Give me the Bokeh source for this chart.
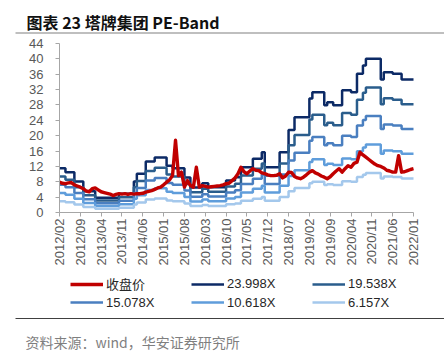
import math
from bokeh.plotting import figure
from bokeh.models import Range1d, FixedTicker, Legend, LegendItem
from bokeh.layouts import column
from bokeh.embed import file_html
from bokeh.resources import INLINE
from bokeh.core.properties import value

# ---------------- data (monthly, 2012/02 .. 2022/01) ----------------
tick_labels = ["2012/02", "2012/09", "2013/04", "2013/11", "2014/06", "2015/01",
               "2015/08", "2016/03", "2016/10", "2017/05", "2017/12", "2018/07",
               "2019/02", "2019/09", "2020/04", "2020/11", "2021/06", "2022/01"]

price = [7.9, 7.6, 7.5, 7.7, 7.8, 7.2, 6.9, 6.6, 6.2, 5.6, 5.4,          # 2012
         6.2, 6.4, 5.9, 5.4, 5.2, 5.0, 4.8, 4.4, 4.7, 4.9, 4.8, 4.9,    # 2013
         4.7, 4.9, 4.8, 4.9, 4.9, 5.0, 5.3, 5.5, 5.7, 6.0, 6.4, 6.6,    # 2014
         7.2, 7.9, 8.5, 9.6, 18.8, 9.6, 10.5, 6.6, 8.3, 7.0, 6.6, 11.8, # 2015
         6.6, 7.0, 6.8, 6.6, 6.7, 6.8, 6.9, 7.0, 7.2, 7.5, 7.6, 8.3,    # 2016
         9.0, 10.1, 11.8, 10.6, 10.1, 10.8, 11.4, 11.0, 10.9, 10.3, 10.1, 9.8,  # 2017
         9.6, 9.6, 9.7, 10.1, 9.0, 9.5, 10.5, 10.4, 9.4, 9.0, 8.8, 9.2,  # 2018
         9.8, 10.5, 10.9, 10.3, 10.0, 9.5, 9.2, 8.8, 9.3, 10.1, 10.8, 11.4,  # 2019
         10.5, 11.4, 12.2, 11.8, 12.8, 13.1, 15.7, 15.0, 14.4, 13.8, 13.2, 12.6,  # 2020
         12.2, 12.0, 11.6, 11.0, 10.8, 10.5, 10.5, 14.8, 10.5, 10.6, 10.9, 11.2,  # 2021
         11.4]                                                          # 2022/01

eps = [0.479, 0.479, 0.438, 0.438, 0.438, 0.335, 0.335, 0.335, 0.230, 0.230, 0.230,
       0.230, 0.160, 0.160, 0.160, 0.160, 0.160, 0.160, 0.160, 0.160, 0.204, 0.204, 0.204,
       0.204, 0.204, 0.335, 0.421, 0.421, 0.421, 0.554, 0.554, 0.554, 0.596, 0.596, 0.596,
       0.596, 0.508, 0.508, 0.479, 0.479, 0.479, 0.479, 0.379, 0.379, 0.271, 0.271, 0.271,
       0.271, 0.317, 0.317, 0.275, 0.275, 0.275, 0.275, 0.275, 0.275, 0.346, 0.346, 0.346,
       0.383, 0.383, 0.492, 0.492, 0.492, 0.492, 0.583, 0.583, 0.583, 0.654, 0.492, 0.492,
       0.492, 0.492, 0.492, 0.654, 0.654, 0.654, 0.896, 0.896, 1.033, 1.033, 1.033, 1.033,
       1.033, 1.238, 1.304, 1.304, 1.304, 1.304, 1.163, 1.196, 1.196, 1.163, 1.163, 1.163,
       1.325, 1.325, 1.325, 1.304, 1.304, 1.504, 1.504, 1.596, 1.667, 1.667, 1.667, 1.667,
       1.667, 1.442, 1.521, 1.521, 1.521, 1.504, 1.504, 1.504, 1.442, 1.442, 1.442, 1.442,
       1.442]

multiples = [23.998, 19.538, 15.078, 10.618, 6.157]
band_names = ["23.998X", "19.538X", "15.078X", "10.618X", "6.157X"]
band_colors = ["#0c2a66", "#2a5d8c", "#4a7fc0", "#5f9ddb", "#a4c8ec"]
price_name = "收盘价"
price_color = "#c00000"

title_text = "图表 23 塔牌集团 PE-Band"
source_text = "资料来源：wind，华安证券研究所"

y_ticks = list(range(0, 45, 4))
month = list(range(len(price)))

FONT = "Liberation Sans, Arial, 'Noto Sans CJK SC', sans-serif"
CJK = "'Noto Sans CJK SC', sans-serif"


def no_align(fig):
    try:
        fig.frame_align = False
    except Exception:
        pass


W = 444

# ---------------- header ----------------
top = figure(width=W, height=36, x_range=Range1d(0, W), y_range=Range1d(36, 0),
             output_backend="svg", toolbar_location=None, min_border=0,
             x_axis_location=None, y_axis_location=None)
no_align(top)
top.grid.visible = False
top.outline_line_color = None
top.text(x=[26], y=[21], text=[title_text], text_font=value(CJK), text_font_style="bold",
         text_font_size="16px", text_color="#111111", text_baseline="alphabetic")
top.segment(x0=[15], y0=[32.5], x1=[W], y1=[32.5], line_color="#808080", line_width=1.2)

# ---------------- main chart ----------------
# The frame covers the whole plot; axes are pinned at x = 0 / y = 0 so that
# their labels (which lie outside the data area) are not cut off.
PLOT_H = 280
TOP_PX = 7         # y = 44 sits this far below the top of the plot
ZERO_PX = 104      # y = 0 sits this far above the bottom of the plot
LEFT_PX = 59       # x = 0 sits this far from the left edge
RIGHT_PX = 31      # last month sits this far from the right edge
y_max = 44
n_last = len(price) - 1
py = (PLOT_H - TOP_PX - ZERO_PX) / y_max
px = (W - LEFT_PX - RIGHT_PX) / n_last

p = figure(width=W, height=PLOT_H,
           x_range=Range1d(-LEFT_PX / px, n_last + RIGHT_PX / px),
           y_range=Range1d(-ZERO_PX / py, y_max + TOP_PX / py),
           output_backend="svg", toolbar_location=None, min_border=0)
no_align(p)
p.outline_line_color = None
p.grid.visible = False

xa = p.xaxis[0]
ya = p.yaxis[0]
xa.fixed_location = 0
ya.fixed_location = 0
xa.bounds = (0, n_last)
ya.bounds = (0, y_max)
xa.ticker = FixedTicker(ticks=[i * 7 for i in range(len(tick_labels))])
xa.major_label_overrides = {i * 7: lab for i, lab in enumerate(tick_labels)}
xa.major_label_orientation = math.pi / 2
ya.ticker = FixedTicker(ticks=y_ticks)
for ax in (xa, ya):
    ax.minor_tick_line_color = None
    ax.major_tick_in = 0
    ax.major_tick_out = 4
    ax.axis_line_color = "#a6a6a6"
    ax.major_tick_line_color = "#a6a6a6"
    ax.major_label_text_font = FONT
    ax.major_label_text_font_size = "13px"
    ax.major_label_text_color = "#595959"
xa.major_label_standoff = 2
ya.major_label_standoff = 12

items = []
band_renderers = []
for mult, name, col in zip(multiples, band_names, band_colors):
    r = p.step(month, [mult * e for e in eps], mode="after", line_color=col, line_width=2.5)
    band_renderers.append((name, r))
rp = p.line(month, price, line_color=price_color, line_width=3.4, line_join="round")

items.append(LegendItem(label=price_name, renderers=[rp]))
for name, r in band_renderers:
    items.append(LegendItem(label=name, renderers=[r]))

legend = Legend(items=items, ncols=3, location=(70, 5), orientation="horizontal",
                glyph_width=33, glyph_height=18, label_height=18, label_width=85,
                label_standoff=3, padding=0, margin=0, spacing=0,
                border_line_color=None, background_fill_alpha=0,
                label_text_font=FONT, label_text_font_size="13px", label_text_color="#262626")
p.add_layout(legend, "center")

# ---------------- footer ----------------
bot = figure(width=W, height=36, x_range=Range1d(0, W), y_range=Range1d(36, 0),
             output_backend="svg", toolbar_location=None, min_border=0,
             x_axis_location=None, y_axis_location=None)
no_align(bot)
bot.grid.visible = False
bot.outline_line_color = None
bot.segment(x0=[15], y0=[2], x1=[W], y1=[2], line_color="#404040", line_width=1.2)
bot.text(x=[25], y=[25], text=[source_text], text_font=value(CJK), text_font_size="14px",
         text_color="#7f7f7f", text_baseline="middle")

layout = column(top, p, bot, spacing=0)
open("out.html", "w").write(file_html(layout, INLINE))
